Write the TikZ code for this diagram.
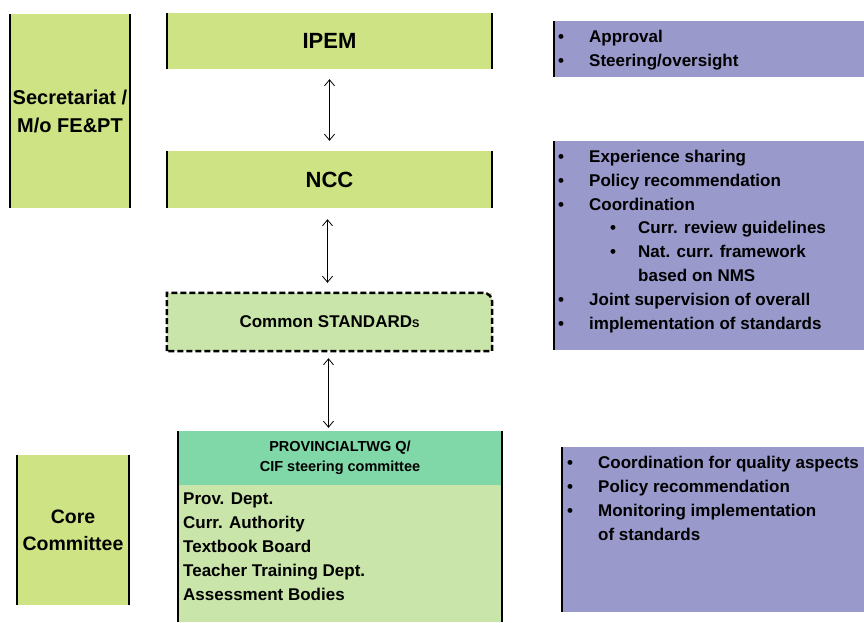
\documentclass[tikz,border=0pt]{standalone}
\usepackage{fontspec}
\setmainfont{Liberation Sans}
\usepackage{tikz}
\usetikzlibrary{arrows.meta}
\definecolor{lime}{HTML}{CEE384}
\definecolor{pale}{HTML}{C9E5A9}
\definecolor{mint}{HTML}{80D7A8}
\definecolor{lilac}{HTML}{9999CC}
\newcommand{\fsz}[1]{\fontsize{#1}{1.4\dimexpr#1pt\relax}\selectfont\bfseries}
\newcommand{\bul}[1]{\makebox[31pt][l]{\textbullet}#1}
\newcommand{\subbul}[1]{\hspace{52pt}\makebox[28pt][l]{\textbullet}#1}

\begin{document}
\begin{tikzpicture}[x=1pt,y=-1pt,
    box/.style={fill=lime, inner sep=0pt, align=center},
    role/.style={fill=lilac, inner sep=0pt},
    duty/.style={anchor=base west, inner sep=0pt, align=left, font=\fsz{17}},
    link/.style={{Straight Barb[length=6pt,width=10pt]}-{Straight Barb[length=6pt,width=10pt]}, line width=0.8pt}]
    		
    		\useasboundingbox (0,0) rectangle (864,622);
    		
    		% bodies on the left and in the middle
    		\node[box, minimum width=120pt, minimum height=194pt, font=\fsz{20}] (sec) at (70,111) {Secretariat /\\M/o FE\&PT};
    		\node[box, minimum width=112pt, minimum height=150pt, font=\fsz{19.5}] (core) at (73,530) {Core\\Committee};
    		\node[box, minimum width=325pt, minimum height=56pt, font=\fsz{22}] (ipem) at (329.5,41) {IPEM};
    		\node[box, minimum width=325pt, minimum height=57pt, font=\fsz{22}] (ncc) at (329.5,179.5) {NCC};
    		\node[box, fill=pale, minimum width=325pt, minimum height=58pt, font=\fsz{17}] (std) at (329.5,322) {Common STANDARD{\fsz{11}S}};
    		\node[box, fill=pale, minimum width=324pt, minimum height=191pt] (prov) at (340,526.5) {};
    		\node[box, fill=mint, minimum width=324pt, minimum height=54pt, font=\fsz{14.5}, anchor=north] (provhead) at (prov.north) {PROVINCIALTWG Q/\\CIF steering committee};
    		% multi-line texts are placed by the baseline of their last line
    		\node[duty] (members) at (183,600) {Prov. Dept.\\Curr. Authority\\Textbook Board\\Teacher Training Dept.\\Assessment Bodies};
    		
    		% dark side bars
    		\foreach \n in {sec,core,ipem,ncc,prov}
    		    \draw[line width=2.5pt] (\n.north west) -- (\n.south west) (\n.north east) -- (\n.south east);
    		\draw[line width=2.5pt, dash pattern=on 6pt off 3pt] (std.south west) -- (std.north west) [rounded corners=9pt] -- (std.north east) [sharp corners] -- (std.south east) -- cycle;
    		
    		% tasks on the right
    		\node[role, minimum width=310pt, minimum height=56pt] (task1) at (709,49) {};
    		\node[role, minimum width=310pt, minimum height=209pt] (task2) at (709,245.5) {};
    		\node[role, minimum width=302pt, minimum height=165pt] (task3) at (713,529.5) {};
    		\foreach \n in {task1,task2,task3}
    		    \draw[line width=2.5pt] (\n.north west) -- (\n.south west);
    		
    		\node[duty] (list1) at (558,66) {\bul{Approval}\\\bul{Steering/oversight}};
    		\node[duty] (list2) at (558,329) {\bul{Experience sharing}\\\bul{Policy recommendation}\\\bul{Coordination}\\\subbul{Curr. review guidelines}\\\subbul{Nat. curr. framework}\\\hspace{80pt}based on NMS\\\bul{Joint supervision of overall}\\\bul{implementation of standards}};
    		\node[duty] (list3) at (567,540) {\bul{Coordination for quality aspects}\\\bul{Policy recommendation}\\\bul{Monitoring implementation}\\\hspace{31pt}of standards};
    		
    		% links between the levels
    		\draw[link, shorten <=10pt, shorten >=10pt] (ipem.south) -- (ncc.north);
    		\draw[link, shorten <=11pt, shorten >=10pt] ([xshift=-2pt]ncc.south) -- ([xshift=-2pt]std.north);
    		\draw[link, shorten <=7pt, shorten >=3pt] ([xshift=-1pt]std.south) -- ([xshift=-1pt]std.south |- prov.north);
    	\end{tikzpicture}
\end{document}
